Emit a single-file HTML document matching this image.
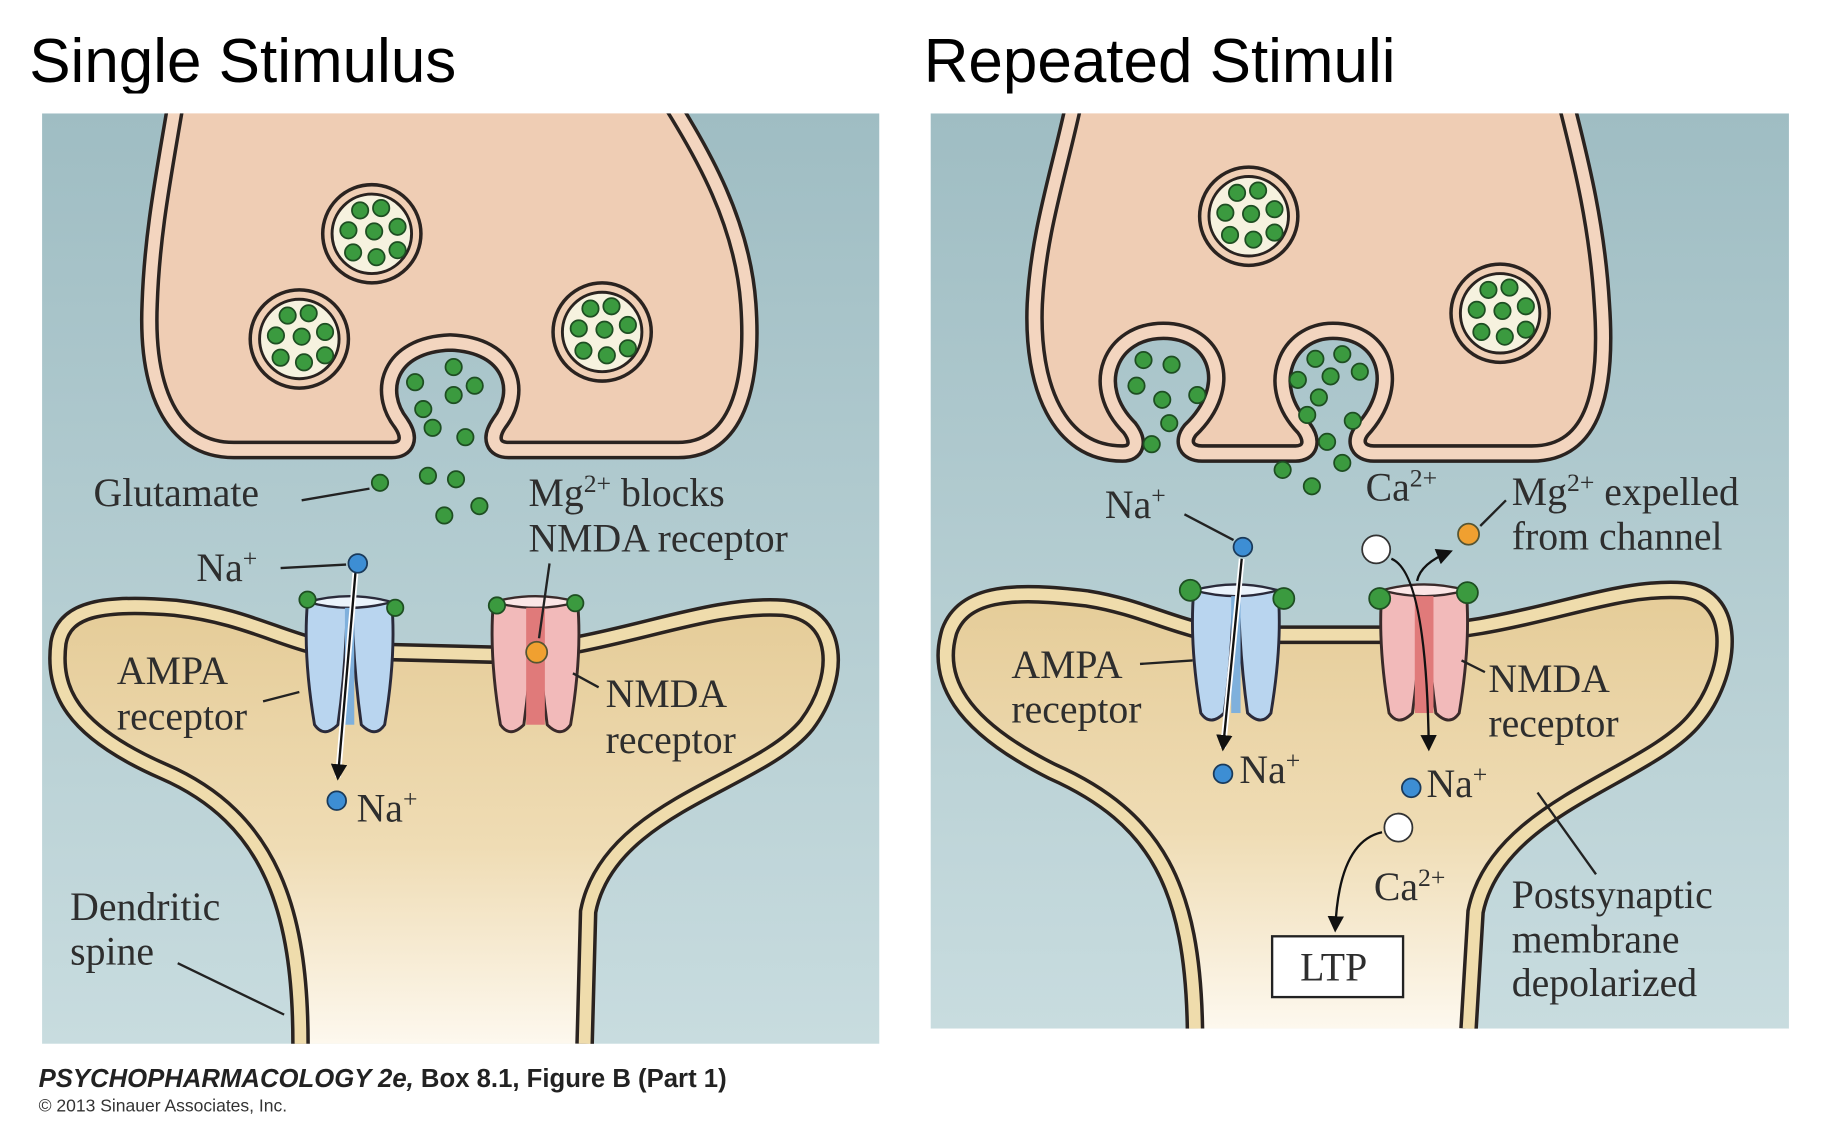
<!DOCTYPE html>
<html><head><meta charset="utf-8"><style>
html,body{margin:0;padding:0;background:#fff;width:1824px;height:1128px;overflow:hidden}
svg{display:block}
.t{font-family:"Liberation Serif",serif;font-size:34px;fill:#2e2e2e}
.h{font-family:"Liberation Sans",sans-serif;font-size:53px;fill:#000}
.ln{stroke:#222;stroke-width:2;fill:none}
</style></head><body>
<svg width="1824" height="1128" viewBox="0 0 1560 965" preserveAspectRatio="none">
<defs>
<linearGradient id="bg" x1="0" y1="0" x2="0" y2="1"><stop offset="0" stop-color="#9fbdc3"/><stop offset="1" stop-color="#c8dcdf"/></linearGradient>
<linearGradient id="sp" x1="0" y1="0" x2="0" y2="1"><stop offset="0" stop-color="#e5cc98"/><stop offset="0.55" stop-color="#efdcb4"/><stop offset="1" stop-color="#fdf8ee"/></linearGradient>
<g id="ves"><circle r="42" fill="#f0cfb5" stroke="#2a2320" stroke-width="3"/><circle r="34" fill="#f6f2df" stroke="#2a2320" stroke-width="2.5"/>
<g fill="#3b9a3f" stroke="#1e4e22" stroke-width="1.5"><circle cx="-10" cy="-20" r="7"/><circle cx="8" cy="-22" r="7"/><circle cx="-20" cy="-3" r="7"/><circle cx="2" cy="-2" r="7"/><circle cx="22" cy="-6" r="7"/><circle cx="-16" cy="16" r="7"/><circle cx="4" cy="20" r="7"/><circle cx="22" cy="14" r="7"/></g></g>
<g id="ampa"><path d="M-36,-5 Q-40,40 -30,100 Q-22,112 -10,100 Q-3,50 -2,-5 Z" fill="#b9d5ef" stroke="#2a2a3a" stroke-width="2.5"/><path d="M36,-5 Q40,40 30,100 Q22,112 10,100 Q3,50 2,-5 Z" fill="#b9d5ef" stroke="#2a2a3a" stroke-width="2.5"/><path d="M-36,-5 Q0,5 36,-5 Q0,-15 -36,-5Z" fill="#eaf3fb" stroke="#2a2a3a" stroke-width="2"/><rect x="-4" y="0" width="8" height="100" fill="#7fb0dc"/></g>
<g id="nmda"><path d="M-36,-5 Q-40,40 -30,100 Q-22,112 -10,100 Q-3,50 -2,-5 Z" fill="#f2baba" stroke="#3a2a2a" stroke-width="2.5"/><path d="M36,-5 Q40,40 30,100 Q22,112 10,100 Q3,50 2,-5 Z" fill="#f2baba" stroke="#3a2a2a" stroke-width="2.5"/><path d="M-36,-5 Q0,5 36,-5 Q0,-15 -36,-5Z" fill="#fbe6e6" stroke="#3a2a2a" stroke-width="2"/><rect x="-8" y="0" width="16" height="100" fill="#e07a7a"/></g>
<marker id="ar" viewBox="0 0 10 10" refX="8" refY="5" markerWidth="7" markerHeight="7" orient="auto"><path d="M0,0 L10,5 L0,10 Z" fill="#111"/></marker>
</defs>
<rect width="1560" height="965" fill="#fff"/>
<text class="h" x="25" y="70">Single Stimulus</text>
<text class="h" x="790" y="70">Repeated Stimuli</text>
<!-- LEFT -->
<rect x="36" y="97" width="716" height="796" fill="url(#bg)"/>
<path d="M150,90 C140,150 130,200 128,260 C125,330 145,385 200,385 L335,385 C348,385 352,375 343,362 C322,335 332,295 385,293 C438,295 448,335 427,362 C418,375 422,385 435,385 L580,385 C630,385 645,330 640,260 C635,190 600,130 575,90" fill="#efcdb4" stroke="#2a2320" stroke-width="16"/>
<path d="M150,90 C140,150 130,200 128,260 C125,330 145,385 200,385 L335,385 C348,385 352,375 343,362 C322,335 332,295 385,293 C438,295 448,335 427,362 C418,375 422,385 435,385 L580,385 C630,385 645,330 640,260 C635,190 600,130 575,90" fill="none" stroke="#f3d5bf" stroke-width="10"/>
<rect x="36" y="80" width="716" height="17" fill="#fff"/>
<use href="#ves" x="318" y="200"/><use href="#ves" x="256" y="290"/><use href="#ves" x="515" y="284"/>
<g fill="#3b9a3f" stroke="#1e4e22" stroke-width="1.5">
<circle cx="355" cy="327" r="7"/><circle cx="388" cy="314" r="7"/><circle cx="406" cy="330" r="7"/><circle cx="362" cy="350" r="7"/><circle cx="388" cy="338" r="7"/><circle cx="370" cy="366" r="7"/><circle cx="398" cy="374" r="7"/><circle cx="325" cy="413" r="7"/><circle cx="366" cy="407" r="7"/><circle cx="390" cy="410" r="7"/><circle cx="380" cy="441" r="7"/><circle cx="410" cy="433" r="7"/></g>
<path d="M257,893 C257,780 232,700 140,660 C60,625 45,590 50,550 C55,520 90,515 150,520 C220,528 250,555 300,557 L420,560 C520,557 600,515 670,520 C720,525 720,580 690,620 C650,670 520,690 503,780 L500,893" fill="url(#sp)" stroke="#2a2320" stroke-width="16"/>
<path d="M257,893 C257,780 232,700 140,660 C60,625 45,590 50,550 C55,520 90,515 150,520 C220,528 250,555 300,557 L420,560 C520,557 600,515 670,520 C720,525 720,580 690,620 C650,670 520,690 503,780 L500,893" fill="none" stroke="#efdcac" stroke-width="10"/>
<rect x="36" y="893" width="716" height="10" fill="#fff"/>
<use href="#ampa" x="299" y="520"/>
<use href="#nmda" x="458" y="520"/>
<g fill="#3b9a3f" stroke="#1e4e22" stroke-width="1.5"><circle cx="263" cy="513" r="7"/><circle cx="338" cy="520" r="7"/><circle cx="425" cy="518" r="7"/><circle cx="492" cy="516" r="7"/></g>
<circle cx="459" cy="558" r="9" fill="#f0a030" stroke="#553" stroke-width="1.5"/>
<path d="M304,490 L289,665" stroke="#fff" stroke-width="5" fill="none"/>
<path d="M304,490 L289,665" stroke="#111" stroke-width="2" fill="none" marker-end="url(#ar)"/>
<circle cx="306" cy="482" r="8" fill="#3d8ed4" stroke="#1a3a5a" stroke-width="1.5"/>
<circle cx="288" cy="685" r="8" fill="#3d8ed4" stroke="#1a3a5a" stroke-width="1.5"/>
<text class="t" x="80" y="433">Glutamate</text><path class="ln" d="M258,428 L316,418"/>
<text class="t" x="168" y="497">Na<tspan font-size="22" dy="-12">+</tspan></text><path class="ln" d="M240,486 L296,483"/>
<text class="t" x="305" y="703">Na<tspan font-size="22" dy="-12">+</tspan></text>
<text class="t" x="452" y="433">Mg<tspan font-size="22" dy="-12">2+</tspan><tspan dy="12"> blocks</tspan></text>
<text class="t" x="452" y="472">NMDA receptor</text><path class="ln" d="M470,482 L461,546"/>
<text class="t" x="100" y="585">AMPA</text><text class="t" x="100" y="624">receptor</text><path class="ln" d="M225,600 L256,592"/>
<text class="t" x="518" y="605">NMDA</text><text class="t" x="518" y="644">receptor</text><path class="ln" d="M490,576 L512,588"/>
<text class="t" x="60" y="787">Dendritic</text><text class="t" x="60" y="825">spine</text><path class="ln" d="M152,824 L243,868"/>
<text x="33" y="930" font-family="Liberation Sans,sans-serif" font-size="22" font-weight="bold" fill="#222"><tspan font-style="italic">PSYCHOPHARMACOLOGY 2e,</tspan> Box 8.1, Figure B (Part 1)</text>
<text x="33" y="951" font-family="Liberation Sans,sans-serif" font-size="15" fill="#333">© 2013 Sinauer Associates, Inc.</text>
<!-- RIGHT -->
<rect x="796" y="97" width="734" height="783" fill="url(#bg)"/>
<path d="M918,90 C905,150 888,200 885,260 C882,330 905,388 960,388 C972,388 975,378 966,366 C930,330 950,283 995,283 C1040,283 1058,330 1018,368 C1010,378 1015,388 1028,388 L1108,388 C1120,388 1124,378 1115,366 C1080,330 1100,283 1140,283 C1185,283 1200,330 1165,368 C1157,378 1162,388 1175,388 L1310,388 C1365,388 1375,330 1370,260 C1366,190 1350,130 1340,90" fill="#efcdb4" stroke="#2a2320" stroke-width="16"/>
<path d="M918,90 C905,150 888,200 885,260 C882,330 905,388 960,388 C972,388 975,378 966,366 C930,330 950,283 995,283 C1040,283 1058,330 1018,368 C1010,378 1015,388 1028,388 L1108,388 C1120,388 1124,378 1115,366 C1080,330 1100,283 1140,283 C1185,283 1200,330 1165,368 C1157,378 1162,388 1175,388 L1310,388 C1365,388 1375,330 1370,260 C1366,190 1350,130 1340,90" fill="none" stroke="#f3d5bf" stroke-width="10"/>
<rect x="796" y="80" width="734" height="17" fill="#fff"/>
<use href="#ves" x="1068" y="185"/><use href="#ves" x="1283" y="268"/>
<g fill="#3b9a3f" stroke="#1e4e22" stroke-width="1.5">
<circle cx="978" cy="308" r="7"/><circle cx="1002" cy="312" r="7"/><circle cx="972" cy="330" r="7"/><circle cx="994" cy="342" r="7"/><circle cx="1024" cy="338" r="7"/><circle cx="1000" cy="362" r="7"/><circle cx="985" cy="380" r="7"/>
<circle cx="1125" cy="307" r="7"/><circle cx="1148" cy="303" r="7"/><circle cx="1110" cy="325" r="7"/><circle cx="1138" cy="322" r="7"/><circle cx="1163" cy="318" r="7"/><circle cx="1128" cy="340" r="7"/><circle cx="1118" cy="355" r="7"/><circle cx="1157" cy="360" r="7"/><circle cx="1135" cy="378" r="7"/>
<circle cx="1097" cy="402" r="7"/><circle cx="1122" cy="416" r="7"/><circle cx="1148" cy="396" r="7"/></g>
<path d="M1022,880 C1020,760 990,700 900,660 C820,620 800,580 812,540 C825,505 870,505 930,512 C980,520 1010,540 1050,543 L1180,543 C1300,543 1370,500 1440,505 C1490,510 1480,580 1450,615 C1410,665 1280,690 1262,780 L1256,880" fill="url(#sp)" stroke="#2a2320" stroke-width="16"/>
<path d="M1022,880 C1020,760 990,700 900,660 C820,620 800,580 812,540 C825,505 870,505 930,512 C980,520 1010,540 1050,543 L1180,543 C1300,543 1370,500 1440,505 C1490,510 1480,580 1450,615 C1410,665 1280,690 1262,780 L1256,880" fill="none" stroke="#efdcac" stroke-width="10"/>
<rect x="796" y="880" width="734" height="12" fill="#fff"/>
<use href="#ampa" x="1057" y="510"/>
<use href="#nmda" x="1218" y="510"/>
<g fill="#3b9a3f" stroke="#1e4e22" stroke-width="1.5"><circle cx="1018" cy="505" r="9"/><circle cx="1098" cy="512" r="9"/><circle cx="1180" cy="512" r="9"/><circle cx="1255" cy="507" r="9"/></g>
<path d="M1062,478 L1046,640" stroke="#fff" stroke-width="5" fill="none"/>
<path d="M1062,478 L1046,640" stroke="#111" stroke-width="2" fill="none" marker-end="url(#ar)"/>
<circle cx="1063" cy="468" r="8" fill="#3d8ed4" stroke="#1a3a5a" stroke-width="1.5"/>
<circle cx="1046" cy="662" r="8" fill="#3d8ed4" stroke="#1a3a5a" stroke-width="1.5"/>
<circle cx="1177" cy="470" r="12" fill="#fff" stroke="#333" stroke-width="1.5"/>
<path d="M1190,478 Q1220,490 1222,640" stroke="#111" stroke-width="2" fill="none" marker-end="url(#ar)"/>
<path d="M1212,497 Q1215,482 1240,472" stroke="#111" stroke-width="2" fill="none" marker-end="url(#ar)"/>
<circle cx="1256" cy="457" r="9" fill="#f0a030" stroke="#553" stroke-width="1.5"/>
<circle cx="1207" cy="674" r="8" fill="#3d8ed4" stroke="#1a3a5a" stroke-width="1.5"/>
<circle cx="1196" cy="708" r="12" fill="#fff" stroke="#333" stroke-width="1.5"/>
<path d="M1182,712 Q1145,720 1142,795" stroke="#111" stroke-width="2" fill="none" marker-end="url(#ar)"/>
<rect x="1088" y="801" width="112" height="52" fill="#fff" stroke="#222" stroke-width="2"/>
<text class="t" x="1112" y="839">LTP</text>
<text class="t" x="945" y="443">Na<tspan font-size="22" dy="-12">+</tspan></text><path class="ln" d="M1013,440 L1055,462"/>
<text class="t" x="1060" y="670">Na<tspan font-size="22" dy="-12">+</tspan></text>
<text class="t" x="1220" y="682">Na<tspan font-size="22" dy="-12">+</tspan></text>
<text class="t" x="1168" y="428">Ca<tspan font-size="22" dy="-12">2+</tspan></text>
<text class="t" x="1175" y="770">Ca<tspan font-size="22" dy="-12">2+</tspan></text>
<text class="t" x="1293" y="432">Mg<tspan font-size="22" dy="-12">2+</tspan><tspan dy="12"> expelled</tspan></text>
<text class="t" x="1293" y="470">from channel</text><path class="ln" d="M1266,450 L1288,428"/>
<text class="t" x="865" y="580">AMPA</text><text class="t" x="865" y="618">receptor</text><path class="ln" d="M975,568 L1020,565"/>
<text class="t" x="1273" y="592">NMDA</text><text class="t" x="1273" y="630">receptor</text><path class="ln" d="M1250,565 L1270,575"/>
<text class="t" x="1293" y="777">Postsynaptic</text><text class="t" x="1293" y="815">membrane</text><text class="t" x="1293" y="852">depolarized</text>
<path class="ln" d="M1315,678 L1365,748"/>
</svg>
</body></html>
